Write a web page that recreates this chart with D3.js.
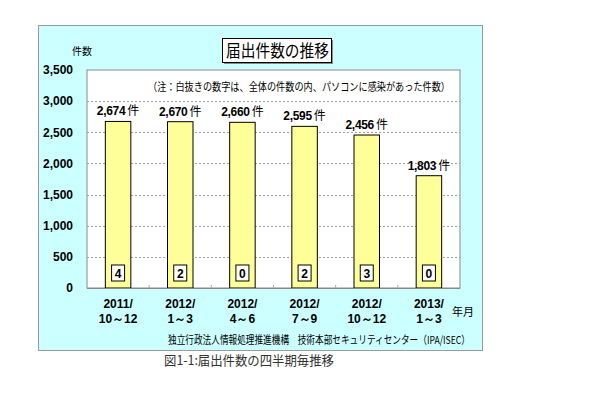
<!DOCTYPE html>
<html><head><meta charset="utf-8">
<script src="https://cdn.jsdelivr.net/npm/d3@7"></script>
<style>body{margin:0;background:#fff;}svg{display:block;}</style>
</head><body>
<svg id="c" width="610" height="400"></svg>
<script>
const categoriesTop = ["2011/","2012/","2012/","2012/","2012/","2013/"];
const categoriesBottom = ["10～12","1～3","4～6","7～9","10～12","1～3"];
const totals = [2674, 2670, 2660, 2595, 2456, 1803];
const pcInfected = [4, 2, 0, 2, 3, 0];
const yTicks = [0, 500, 1000, 1500, 2000, 2500, 3000, 3500];

const svg = d3.select("#c");
const jp = "'Noto Sans CJK JP','Noto Sans CJK SC',sans-serif";
const ar = "'Liberation Sans',Arial,sans-serif";

// outer panel
svg.append("rect").attr("x",38.5).attr("y",25.5).attr("width",444).attr("height",325)
  .attr("fill","#CCFFFF").attr("stroke","#9a9a9a").attr("stroke-width",1);

const L=87, R=460, T=70, B=288;
const x = d3.scaleBand().domain(d3.range(totals.length)).range([L,R]).paddingInner(0.59).paddingOuter(0.295);
const y = d3.scaleLinear().domain([0,3500]).range([B,T]);

// plot area
svg.append("rect").attr("x",L).attr("y",T).attr("width",R-L).attr("height",B-T)
  .attr("fill","#fff").attr("stroke","#8a8a8a").attr("stroke-width",1);

// gridlines
svg.append("g").selectAll("line").data(yTicks.filter(d=>d>0&&d<3500)).join("line")
  .attr("x1",L).attr("x2",R).attr("y1",d=>Math.round(y(d))+0.5).attr("y2",d=>Math.round(y(d))+0.5)
  .attr("stroke","#a0a0a0").attr("stroke-dasharray","2,2");

// y axis labels
const yAxis = d3.axisLeft(y).tickValues(yTicks).tickSize(0).tickPadding(14).tickFormat(d3.format(","));
const ga = svg.append("g").attr("transform",`translate(${L},0)`).call(yAxis);
ga.select(".domain").remove();
ga.selectAll("text").attr("font-family",ar).attr("font-weight","bold").attr("font-size",12).attr("fill","#000");

// x ticks (small)
svg.append("g").selectAll("line").data(d3.range(1,totals.length)).join("line")
  .attr("x1",d=>L+d*(R-L)/totals.length).attr("x2",d=>L+d*(R-L)/totals.length)
  .attr("y1",B).attr("y2",B-3).attr("stroke","#aaa");

// bars
svg.append("g").selectAll("rect").data(totals).join("rect")
  .attr("x",(d,i)=>x(i)).attr("width",x.bandwidth())
  .attr("y",d=>y(d)).attr("height",d=>B-y(d))
  .attr("fill","#FFFF99").attr("stroke","#000").attr("stroke-width",1);

// axis bottom line
svg.append("line").attr("x1",L).attr("x2",R).attr("y1",B+0.5).attr("y2",B+0.5).attr("stroke","#8a8a8a");

// value labels
const vl = svg.append("g").selectAll("text").data(totals).join("text")
  .attr("x",(d,i)=>x(i)+x.bandwidth()/2).attr("y",d=>y(d)-6)
  .attr("text-anchor","middle").attr("fill","#000");
vl.append("tspan").attr("font-family",ar).attr("font-weight","bold").attr("font-size",12).attr("letter-spacing",-0.3).text(d=>d3.format(",")(d));
vl.append("tspan").attr("font-family",jp).attr("font-size",12).attr("dx",2).text("件");

// small boxes
const bw=13, bh=16;
svg.append("g").selectAll("rect").data(pcInfected).join("rect")
  .attr("x",(d,i)=>x(i)+x.bandwidth()/2-bw/2).attr("y",B-7-bh).attr("width",bw).attr("height",bh)
  .attr("fill","#fff").attr("stroke","#000").attr("stroke-width",1);
svg.append("g").selectAll("text").data(pcInfected).join("text")
  .attr("x",(d,i)=>x(i)+x.bandwidth()/2).attr("y",B-7-bh/2+4.5)
  .attr("text-anchor","middle").attr("font-family",ar).attr("font-weight","bold").attr("font-size",12).text(d=>d);

// category labels
const cl = svg.append("g").selectAll("text").data(categoriesTop).join("text")
  .attr("text-anchor","middle").attr("font-family",ar).attr("font-weight","bold").attr("font-size",12);
cl.append("tspan").attr("x",(d,i)=>x(i)+x.bandwidth()/2).attr("y",308).text(d=>d);
cl.append("tspan").attr("x",(d,i)=>x(i)+x.bandwidth()/2).attr("y",323).text((d,i)=>categoriesBottom[i]);

svg.append("text").attr("x",452).attr("y",316).attr("font-family",jp).attr("font-size",11).text("年月");
svg.append("text").attr("x",72).attr("y",55).attr("font-family",jp).attr("font-size",10).text("件数");

// title
svg.append("rect").attr("x",224).attr("y",40).attr("width",109).attr("height",24).attr("fill","#888");
svg.append("rect").attr("x",222.5).attr("y",38.5).attr("width",109).attr("height",24).attr("fill","#fff").attr("stroke","#000");
svg.append("text").attr("x",226).attr("y",57).attr("font-family",jp).attr("font-size",16.5)
  .attr("textLength",103).attr("lengthAdjust","spacingAndGlyphs").text("届出件数の推移");

// note
svg.append("text").attr("x",148).attr("y",91).attr("font-family",jp).attr("font-size",11).attr("textLength",302).attr("lengthAdjust","spacingAndGlyphs")
  .text("（注：白抜きの数字は、全体の件数の内、パソコンに感染があった件数）");

// source
svg.append("text").attr("x",168).attr("y",344).attr("font-family",jp).attr("font-size",11).attr("textLength",302).attr("lengthAdjust","spacingAndGlyphs")
  .text("独立行政法人情報処理推進機構　技術本部セキュリティセンター（IPA/ISEC）");

// caption
svg.append("text").attr("x",164).attr("y",365).attr("font-family",jp).attr("font-size",13).attr("fill","#333").attr("textLength",170).attr("lengthAdjust","spacingAndGlyphs")
  .text("図1-1:届出件数の四半期毎推移");
</script>
</body></html>
